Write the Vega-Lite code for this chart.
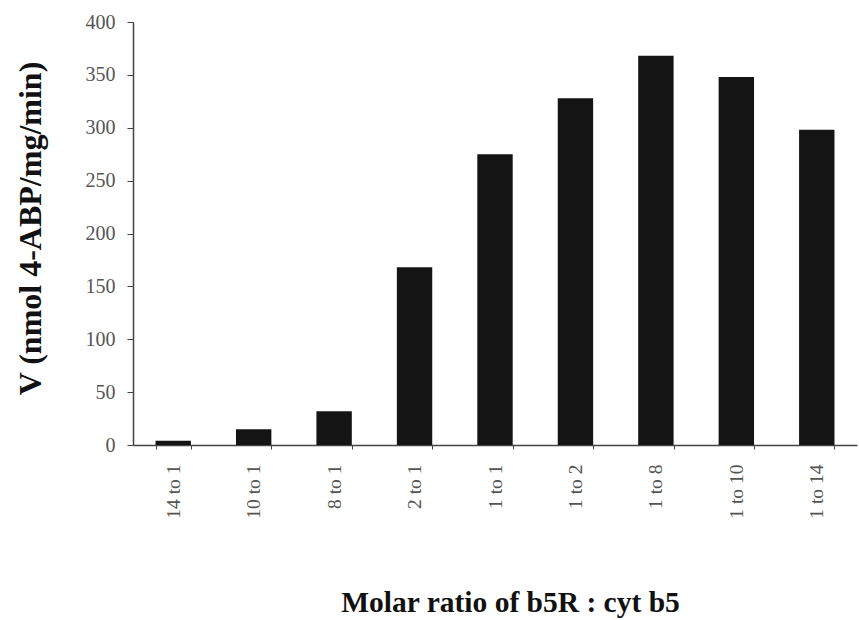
{
  "$schema": "https://vega.github.io/schema/vega-lite/v6.json",
  "autosize": "none",
  "width": 724,
  "height": 423,
  "padding": {"left": 133, "top": 22, "right": 2, "bottom": 175},
  "background": "white",
  "data": {
    "values": [
      {"ratio": "14 to 1", "v": 4},
      {"ratio": "10 to 1", "v": 15},
      {"ratio": "8 to 1", "v": 32},
      {"ratio": "2 to 1", "v": 168},
      {"ratio": "1 to 1", "v": 275},
      {"ratio": "1 to 2", "v": 328},
      {"ratio": "1 to 8", "v": 368},
      {"ratio": "1 to 10", "v": 348},
      {"ratio": "1 to 14", "v": 298}
    ]
  },
  "mark": {"type": "bar", "color": "#141414"},
  "encoding": {
    "x": {
      "field": "ratio",
      "type": "nominal",
      "sort": null,
      "scale": {"paddingInner": 0.56, "paddingOuter": 0.28},
      "axis": {
        "title": "Molar ratio of b5R : cyt b5",
        "titleFont": "Liberation Serif",
        "titleFontSize": 29.5,
        "titleFontWeight": "bold",
        "titleColor": "#111",
        "titleBaseline": "top",
        "titleX": 377,
        "titleY": 143,
        "labelAngle": -90,
        "labelFont": "Liberation Serif",
        "labelFontSize": 19.5,
        "labelColor": "#555",
        "labelPadding": 15,
        "tickBand": "extent",
        "tickSize": 4,
        "tickColor": "#444",
        "domainColor": "#444",
        "domainWidth": 1.5,
        "grid": false
      }
    },
    "y": {
      "field": "v",
      "type": "quantitative",
      "scale": {"domain": [0, 400], "nice": false},
      "axis": {
        "title": "V (nmol 4-ABP/mg/min)",
        "titleFont": "Liberation Serif",
        "titleFontSize": 32,
        "titleFontWeight": "bold",
        "titleColor": "#111",
        "titleAngle": -90,
        "titleBaseline": "middle",
        "titleAnchor": "middle",
        "titleX": -103,
        "titleY": 206,
        "values": [0, 50, 100, 150, 200, 250, 300, 350, 400],
        "labelFont": "Liberation Serif",
        "labelFontSize": 20,
        "labelColor": "#555",
        "labelPadding": 12,
        "tickSize": 6,
        "tickColor": "#444",
        "domainColor": "#444",
        "domainWidth": 1.5,
        "grid": false
      }
    }
  },
  "config": {"view": {"stroke": null}}
}
